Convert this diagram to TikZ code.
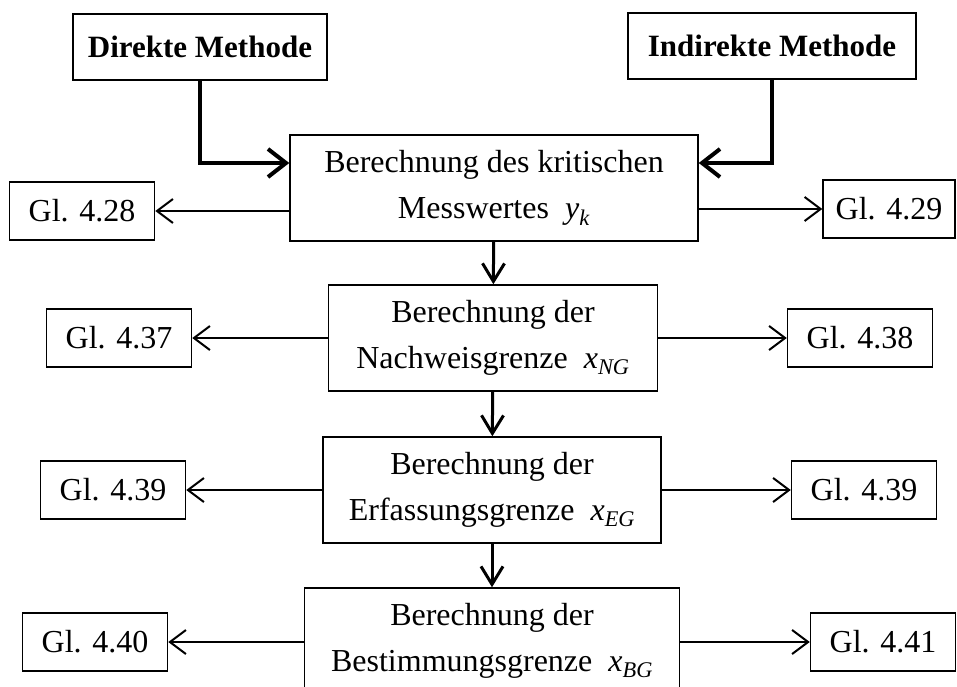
\documentclass[tikz,border=0pt]{standalone}
\usepackage{fontspec}
\setmainfont{Liberation Serif}
\usepackage{tikz}
\usetikzlibrary{arrows.meta}
\newcommand{\grzsym}[2]{\textit{#1}\textsubscript{\textit{#2}}}

\begin{document}
\begin{tikzpicture}[x=1pt,y=-1pt]
\tikzstyle{every node}=[font=\fontsize{32}{46}\selectfont]
\tikzstyle{method}=[draw,line width=1.5pt,minimum height=66pt,inner xsep=15pt,font=\fontsize{31}{38}\selectfont\bfseries]
\tikzstyle{calcbox}=[draw,line width=1.5pt,align=center,minimum height=106pt,inner sep=0pt]
\tikzstyle{glbox}=[draw,line width=1.5pt,minimum width=145pt,minimum height=58pt,inner sep=0pt]
\tikzstyle{methodarrow}=[line width=4pt,-{Straight Barb[length=18pt,width=28pt]}]
\tikzstyle{downarrow}=[line width=3pt,-{Straight Barb[length=18pt,width=22pt]}]
\tikzstyle{sidearrow}=[line width=2pt,-{Straight Barb[length=16pt,width=24pt]}]
\useasboundingbox (0,0) rectangle (957,687);
% obere Zeile
\node[method] (dm) at (200,47) {Direkte Methode};
\node[method,inner xsep=20pt] (im) at (772,46) {Indirekte Methode};
% mittlere Spalte
\node[calcbox,minimum width=408pt] (kw) at (494,188) {Berechnung des kritischen\\Messwertes\ \ \grzsym{y}{k}};
\node[calcbox,minimum width=329pt] (ng) at (493,338) {Berechnung der\\Nachweisgrenze\ \ \grzsym{x}{NG}};
\node[calcbox,minimum width=338pt] (eg) at (492,490) {Berechnung der\\Erfassungsgrenze\ \ \grzsym{x}{EG}};
\node[calcbox,minimum width=375pt] (bg) at (492,641) {Berechnung der\\Bestimmungsgrenze\ \ \grzsym{x}{BG}};
% Gleichungen
\node[glbox] (gl28) at (82,211) {Gl. 4.28};
\node[glbox,minimum width=132pt] (gl29) at (889,209) {Gl. 4.29};
\node[glbox] (gl37) at (119,338) {Gl. 4.37};
\node[glbox] (gl38) at (860,338) {Gl. 4.38};
\node[glbox] (gl39a) at (113,490) {Gl. 4.39};
\node[glbox] (gl39b) at (864,490) {Gl. 4.39};
\node[glbox] (gl40) at (95,642) {Gl. 4.40};
\node[glbox] (gl41) at (883,642) {Gl. 4.41};
% Verbindungen
\draw[methodarrow] (dm) |- ([yshift=25pt]kw.west);
\draw[methodarrow] (im) |- ([yshift=25pt]kw.east);
\draw[downarrow] (kw) -- (ng);
\draw[downarrow] (ng) -- (eg);
\draw[downarrow] (eg) -- (bg);
\draw[sidearrow] (kw.west |- gl28) -- (gl28);
\draw[sidearrow] (kw.east |- gl29) -- (gl29);
\draw[sidearrow] (ng) -- (gl37);
\draw[sidearrow] (ng) -- (gl38);
\draw[sidearrow] (eg) -- (gl39a);
\draw[sidearrow] (eg) -- (gl39b);
\draw[sidearrow] (bg.west |- gl40) -- (gl40);
\draw[sidearrow] (bg.east |- gl41) -- (gl41);
\end{tikzpicture}
\end{document}
